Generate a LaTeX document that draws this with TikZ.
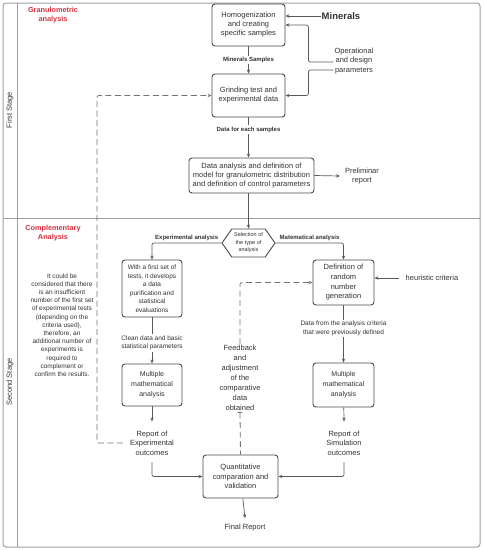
\documentclass[tikz,border=0pt]{standalone}
\usepackage{fontspec}
\setmainfont{Liberation Sans}
\usepackage{xcolor}
\usepackage{tikz}
\usetikzlibrary{arrows.meta,positioning,shapes.symbols,calc}
\definecolor{ink}{HTML}{333333}
\definecolor{edge}{HTML}{4A4A4A}
\definecolor{frame}{HTML}{9E9E9E}
\definecolor{flow}{HTML}{5A5A5A}
\definecolor{alert}{HTML}{D9303F}
\tikzset{
  box/.style={draw=edge,fill=white,line width=0.9pt,rounded corners=3pt,inner sep=2pt,align=center,text=ink,font=\fontsize{7.5}{9}\selectfont},
  hexbox/.style={draw=edge,fill=white,line width=0.9pt,signal,signal to=west and east,signal pointer angle=110,inner sep=1pt,align=center,text=ink,font=\fontsize{5.5}{7.5}\selectfont},
  note/.style={text=ink,align=center,inner sep=1pt,font=\fontsize{7.5}{9.5}\selectfont},
  tag/.style={fill=white,text=ink,inner sep=1.5pt,align=center,font=\fontsize{6}{7.5}\selectfont\bfseries},
  head/.style={text=alert,align=center,inner sep=0pt,font=\fontsize{7.3}{9.5}\selectfont\bfseries},
  stage/.style={rotate=90,text=ink,inner sep=0pt,font=\fontsize{7.5}{9}\selectfont},
  arrow/.style={-{Stealth[length=4pt,width=3.4pt]},line width=0.7pt,color=flow},
  loop/.style={line width=0.8pt,color=flow!85,dash pattern=on 6pt off 3.5pt},
}

\begin{document}
\begin{tikzpicture}[x=1pt,y=-1pt]
  \useasboundingbox (0,0) rectangle (483,550);
  \draw[draw=frame,line width=1pt,rounded corners=3pt] (3,3) rectangle (480,547);
  \draw[draw=frame,line width=1pt] (17,3) -- (17,547) (3,218) -- (480,218);
  \node[stage] (s1) at (10,110) {First Stage};
  \node[stage] (s2) at (10,382) {Second Stage};
  \node[head] (h1) at (53,15) {Granulometric\\analysis};
  \node[head] (h2) at (53,233) {Complementary\\Analysis};

  \node[box,minimum width=73pt,minimum height=42pt] (homog) at (248.5,25) {Homogenization\\and creating\\specific samples};
  \node[box,minimum width=73pt,minimum height=43pt] (grind) at (248.5,95.5) {Grinding test and\\experimental data};
  \node[box,minimum width=125pt,minimum height=35pt] (model) at (251.5,175.5) {Data analysis and definition of\\model for granulometric distribution\\and definition of control parameters};
  \node[hexbox,minimum width=53pt,minimum height=28pt] (select) at (248.5,243) {Selection of\\the type of\\analysis};
  \node[box,minimum width=60pt,minimum height=57pt,font=\fontsize{6.5}{8.5}\selectfont] (purif) at (152,288.5) {With a first set of\\tests, it develops\\a data\\purification and\\statistical\\evaluations};
  \node[box,minimum width=60pt,minimum height=42pt,font=\fontsize{7}{10}\selectfont] (mexp) at (152,385) {Multiple\\mathematical\\analysis};
  \node[box,minimum width=61pt,minimum height=45pt,font=\fontsize{7.5}{9.7}\selectfont] (rand) at (343.5,282.5) {Definition of\\random\\number\\generation};
  \node[box,minimum width=61pt,minimum height=44pt,font=\fontsize{7}{10}\selectfont] (msim) at (343.5,385) {Multiple\\mathematical\\analysis};
  \node[box,minimum width=75pt,minimum height=43pt,font=\fontsize{7.5}{9.5}\selectfont] (comp) at (240.5,476.5) {Quantitative\\comparation and\\validation};

  \node[note,font=\fontsize{9.5}{11}\selectfont\bfseries] (mineral) at (341,16) {Minerals};
  \node[note] (oper) at (354,61) {Operational\\and design\\parameters};
  \node[note] (prelim) at (362,176) {Preliminar\\report};
  \node[note] (repexp) at (152,443) {Report of\\Experimental\\outcomes};
  \node[note] (repsim) at (344,443) {Report of\\Simulation\\outcomes};
  \node[note] (final) at (245,528) {Final Report};
  \node[note] (heur) at (432,278) {heuristic criteria};
  \node[note,font=\fontsize{7.5}{10}\selectfont] (fback) at (240,378) {Feedback\\and\\adjustment\\of the\\comparative\\data\\obtained};
  \node[note,font=\fontsize{6.5}{8.2}\selectfont] (doubt) at (62,325) {It could be\\considered that there\\is an insufficient\\number of the first set\\of experimental tests\\(depending on the\\criteria used),\\therefore, an\\additional number of\\experiments is\\required to\\complement or\\confirm the results.};

  \draw[arrow] (mineral.west) -- (mineral.west -| homog.east);
  \draw[arrow,rounded corners=2pt] ([yshift=-1pt]oper.west) -- ++(-25,0) |- (homog.east);
  \draw[arrow,rounded corners=2pt] ([yshift=-9pt]oper.west) -- ++(-25,0) |- (grind.east);
  \draw[arrow] (homog) -- node[tag]{Minerals Samples} (grind);
  \draw[arrow] (grind.south) -- node[tag,pos=0.3]{Data for each samples} (grind.south |- model.north);
  \draw[arrow] (model.east) -- ([xshift=-4pt]prelim.west);
  \draw[arrow] (select.north |- model.south) -- (select.north);
  \draw[arrow,rounded corners=2pt] (select.west) -| node[tag,pos=0.25,fill=none,above]{Experimental analysis} (purif.north);
  \draw[arrow,rounded corners=2pt] (select.east) -| node[tag,pos=0.25,fill=none,above]{Matematical analysis} (rand.north);
  \draw[arrow] (purif) -- node[tag,pos=0.55,font=\fontsize{6.5}{8.5}\selectfont]{Clean data and basic\\statistical parameters} (mexp);
  \draw[arrow] (rand) -- node[tag,pos=0.4,font=\fontsize{6.5}{8.5}\selectfont]{Data from the analysis criteria\\that were previously defined} (msim);
  \draw[arrow] ([xshift=-6pt]heur.west) -- (heur.west -| rand.east);
  \draw[arrow] (mexp) -- ([yshift=8pt]repexp.north);
  \draw[arrow] (msim) -- ([yshift=8pt]repsim.north);
  \draw[arrow,rounded corners=2pt] ([yshift=-6pt]repexp.south) |- (comp.west);
  \draw[arrow,rounded corners=2pt] ([yshift=-6pt]repsim.south) |- (comp.east);
  \draw[arrow] (comp) -- ([yshift=5pt]final.north);
  \draw[arrow,loop,rounded corners=2pt] ([xshift=-6pt]repexp.west) -- ++(-26,0) |- (grind.west);
  \draw[loop,{Bar[width=5pt]}-] (fback.south) -- (comp.north);
  \draw[arrow,loop,rounded corners=2pt] (fback.north) |- (rand.west);
\end{tikzpicture}
\end{document}
